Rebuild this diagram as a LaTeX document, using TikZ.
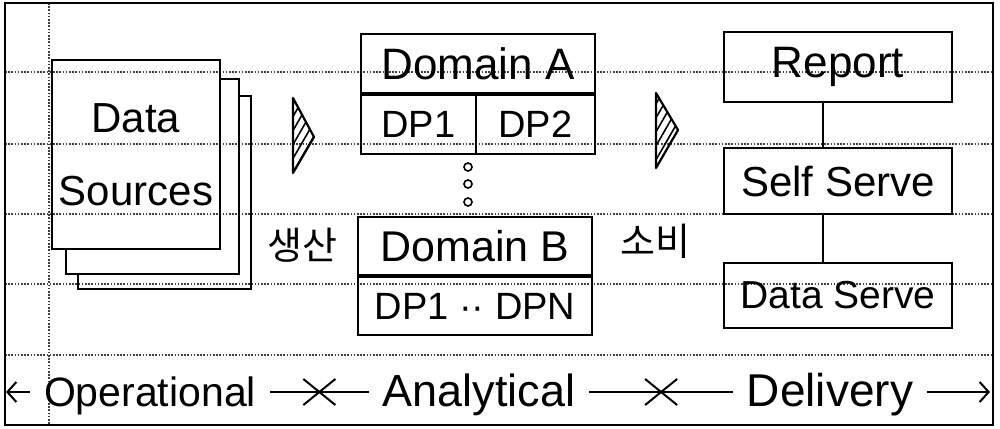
\documentclass[tikz,border=0pt]{standalone}
\usepackage{fontspec}
\setmainfont{Liberation Sans}
\newfontfamily\kofont{Noto Sans CJK KR}
\usetikzlibrary{positioning,patterns.meta,arrows.meta,shapes.misc}
\newcommand{\fs}[1]{\fontsize{#1}{1.2\dimexpr#1pt\relax}\selectfont}

\begin{document}
\begin{tikzpicture}[x=1pt,y=-1pt]
  \tikzset{
    box/.style={draw,line width=2.2pt,inner sep=0pt,font=\fs{40}},
    rule/.style={black!75,line width=1.1pt,dash pattern=on 1.6pt off 1.6pt},
    hatch/.style={draw,line width=2.2pt,line join=round,
      pattern={Lines[angle=60,distance=7pt,line width=1.6pt]}},
    lbl/.style={inner sep=0pt,outer sep=14pt,text height=29pt,text depth=0pt},
    kor/.style={inner sep=0pt,font=\kofont\fs{38}},
    dot/.style={draw,circle,line width=1.6pt,inner sep=0pt,minimum size=8pt},
    tick/.style={draw,cross out,line width=2pt,minimum width=30pt,minimum height=24pt,inner sep=0pt},
    barb/.style={line width=2pt,arrows={-Straight Barb[length=9pt,width=20pt]}}
  }
  \useasboundingbox (0,0) rectangle (1000,428);
  % notebook rules
  \foreach \y in {72,144,214,284,355}
    \draw[rule] (5,\y) -- (993,\y);
  \draw[rule] (49,3) -- (49,425);
  \draw[line width=2.4pt] (5,3) rectangle (993,425);

  % operational
  \node[box,minimum width=168pt,minimum height=189pt,align=center,font=\fontsize{42}{73}\selectfont]
    (src) at (136,154.5) {Data\\Sources};
  \draw[line width=2pt] ([yshift=-20pt]src.north east) -- ++(18,0)
    |- ([xshift=15pt,yshift=-24pt]src.south west) -- ([xshift=15pt]src.south west);
  \draw[line width=2pt] ([xshift=18pt,yshift=-37pt]src.north east) -- ++(12,0)
    |- ([xshift=27pt,yshift=-39pt]src.south west) -- ([xshift=27pt,yshift=-24pt]src.south west);
  \draw[hatch] (293,98) -- (314,137) -- (293,173) -- cycle;
  \node[kor] (make) at (302,245) {생산};

  % analytical
  \node[box,minimum width=234pt,minimum height=59pt,font=\fs{44}] (domA) at (478,63.5) {Domain A};
  \node[box,minimum width=115pt,minimum height=59pt,anchor=north west,font=\fs{38}]
    (dpA1) at (domA.south west) {DP1};
  \node[box,minimum width=119pt,minimum height=59pt,anchor=north east,font=\fs{38}]
    (dpA2) at (domA.south east) {DP2};
  \node[dot] (d1) at (468,167) {};
  \node[dot] (d2) at (468,184) {};
  \node[dot] (d3) at (468,202) {};
  \node[box,minimum width=234pt,minimum height=58pt,font=\fs{43}] (domB) at (475,246) {Domain B};
  \node[box,minimum width=234pt,minimum height=58pt,anchor=north,font=\fs{38}]
    (dpB) at (domB.south) {DP1 ·· DPN};
  \draw[hatch] (656,93) -- (678,130) -- (656,168) -- cycle;
  \node[kor] (use) at (655,241) {소비};

  % delivery
  \node[box,minimum width=228pt,minimum height=70pt,font=\fs{44}] (rep) at (838,67) {Report};
  \node[box,minimum width=228pt,minimum height=66pt,font=\fs{42}] (self) at (838,181) {Self Serve};
  \node[box,minimum width=228pt,minimum height=65pt,font=\fs{39}] (serve) at (838,295.5) {Data Serve};
  \draw[line width=1.6pt] ([xshift=-15pt]rep.south) -- ([xshift=-15pt]self.north);
  \draw[line width=1.6pt] ([xshift=-15pt]self.south) -- ([xshift=-15pt]serve.north);

  % stages
  \node[lbl,font=\fs{41}] (op) at (150,392) {Operational};
  \node[lbl,font=\fs{45}] (an) at (479,392) {Analytical};
  \node[lbl,font=\fs{46}] (dl) at (830,392) {Delivery};
  \coordinate (lend) at (6,392);
  \coordinate (rend) at (990,392);
  \draw[barb] (op.west) -- (lend);
  \draw[line width=2pt] (op.east) -- node[tick] (x1) {} (an.west);
  \draw[line width=2pt] (an.east) -- node[tick] (x2) {} (dl.west);
  \draw[barb] (dl.east) -- (rend);
\end{tikzpicture}
\end{document}
